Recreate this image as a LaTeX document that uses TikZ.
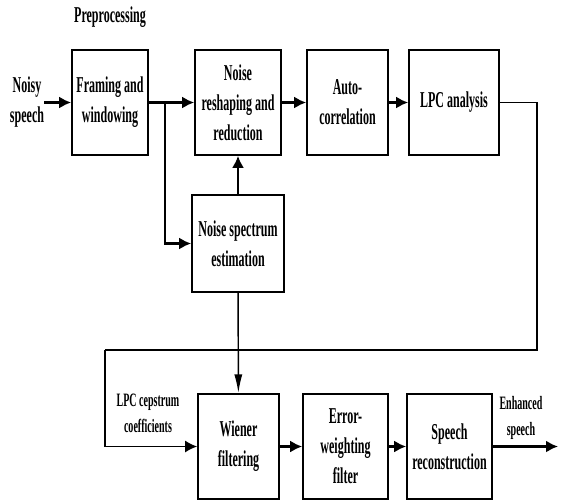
\documentclass[tikz,border=0pt]{standalone}
\usepackage{fontspec}
\setmainfont{Liberation Serif}[FakeStretch=0.53]
\usetikzlibrary{arrows.meta,positioning}
\tikzset{>={Latex[length=9pt,width=9pt]}}
\def\ux{0.75pt}
\newcommand{\boxfont}{\fontsize{17}{22.5}\selectfont\bfseries}
\newcommand{\labfont}{\fontsize{14.2}{19.5}\selectfont\bfseries}
\tikzset{
     block/.style={draw, line width=1.3pt, align=center, inner sep=1pt,
       minimum height=105*\ux, font=\boxfont},
     label/.style={align=center, inner sep=0pt, font=\labfont},
     line/.style={draw, line width=1.6pt, ->},
     back/.style={draw, line width=1.1pt},
}

\begin{document}
\begin{tikzpicture}[x=\ux, y=-\ux]
		\useasboundingbox (0,0) rectangle (563,501);

		%% top row
		\node[label, font=\boxfont] (pre) at (110,17) {Preprocessing};
		\node[label, font=\boxfont] (noisy) at (27,102.5) {Noisy\\speech};
		\node[block, minimum width=76*\ux] (frame) at (110,102.5) {Framing and\\windowing};
		\node[block, minimum width=86*\ux] (reshape) at (238,102.5) {Noise\\reshaping and\\reduction};
		\node[block, minimum width=81*\ux] (auto) at (347.5,102.5) {Auto-\\correlation};
		\node[block, minimum width=90*\ux] (lpc) at (454,102.5) {LPC analysis};
		\node[block, minimum width=92*\ux, minimum height=97*\ux] (spec) at (238,243.5) {Noise spectrum\\estimation};

		%% bottom row
		\node[block, minimum width=81*\ux] (wiener) at (238.5,446.5) {Wiener\\filtering};
		\node[block, minimum width=85*\ux] (errw) at (345.5,446.5) {Error-\\weighting\\filter};
		\node[block, minimum width=85*\ux] (recon) at (449.5,446.5) {Speech\\reconstruction};
		\node[label] (cep) at (148,413) {LPC cepstrum\\coefficients};
		\node[label] (enh) at (521,418) {Enhanced\\speech};

		\coordinate (split) at (165,102.5);
		\coordinate (c1) at (537,350);
		\coordinate (c2) at (105,350);
		\coordinate (out) at (558,446.5);

		\draw[line] (noisy) -- (frame);
		\draw[line] (frame) -- (reshape);
		\draw[line] (split) |- (spec.west);
		\draw[line] (spec) -- (reshape);
		\draw[line] (reshape) -- (auto);
		\draw[line] (auto) -- (lpc);
		\draw[back] (lpc.east) -| (c1) -- (c2);
		\draw[back, -{Latex[length=9pt,width=9pt]}] (c2) |- (wiener.west);
		\draw[back, -{Latex[length=14pt,width=6pt]}] (spec) -- (wiener);
		\draw[line] (wiener) -- (errw);
		\draw[line] (errw) -- (recon);
		\draw[line] (recon) -- (out);
\end{tikzpicture}
\end{document}
